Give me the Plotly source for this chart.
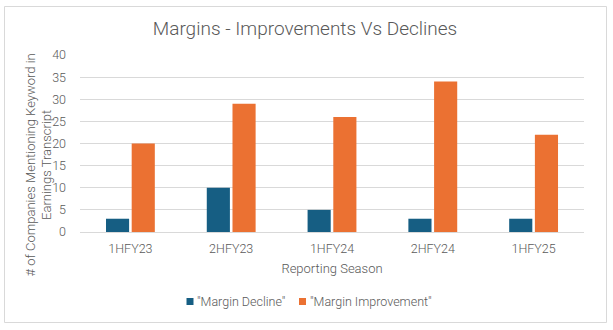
import plotly.graph_objects as go

categories = ["1HFY23", "2HFY23", "1HFY24", "2HFY24", "1HFY25"]
margin_decline = [3, 10, 5, 3, 3]
margin_improvement = [20, 29, 26, 34, 22]
y_ticks = [0, 5, 10, 15, 20, 25, 30, 35, 40]
series_names = ['"Margin Decline"', '"Margin Improvement"']
series_colors = ["#165E83", "#EB7132"]
y_title = "# of Companies Mentioning Keyword in<br>Earnings Transcript"

GRAY = "#595959"
FONT = "Roboto"

fig = go.Figure()
fig.add_trace(go.Bar(x=categories, y=margin_decline, name=series_names[0],
                     marker=dict(color=series_colors[0], line=dict(width=0))))
fig.add_trace(go.Bar(x=categories, y=margin_improvement, name=series_names[1],
                     marker=dict(color=series_colors[1], line=dict(width=0))))

L, R, T, B = 80, 29, 55, 98
W, H = 613, 330
pw = W - L - R
ph = H - T - B

def px_x(x):
    return (x - L) / pw

def px_y(y):
    return (H - B - y) / ph

# custom legend (small squares next to text)
legend_items = [(186.5, 195), (299, 307.5)]
shapes = [dict(type="rect", xref="paper", yref="paper",
               x0=px_x(4.5), x1=px_x(606.5), y0=px_y(322.5), y1=px_y(6.5),
               line=dict(color="#D9D9D9", width=1), layer="below")]
annotations = []
for (sx, tx), name, col in zip(legend_items, series_names, series_colors):
    shapes.append(dict(type="rect", xref="paper", yref="paper",
                       x0=px_x(sx), x1=px_x(sx + 7), y0=px_y(305), y1=px_y(298),
                       fillcolor=col, line=dict(width=0)))
    annotations.append(dict(text=name, xref="paper", yref="paper", x=px_x(tx), y=px_y(301.5),
                            xanchor="left", yanchor="middle", showarrow=False,
                            font=dict(family=FONT, size=12.5, color=GRAY, weight=300)))

annotations.append(dict(text=y_title, xref="paper", yref="paper", x=px_x(38.5), y=px_y(165),
                        xanchor="center", yanchor="middle", textangle=-90, showarrow=False,
                        font=dict(family=FONT, size=13, color=GRAY, weight=300)))

fig.update_layout(
    width=W, height=H,
    margin=dict(l=L, r=R, t=T, b=B),
    paper_bgcolor="white", plot_bgcolor="white",
    barmode="group", bargap=0.49, bargroupgap=0.1,
    showlegend=False,
    font=dict(family=FONT, color=GRAY, size=12, weight=300),
    title=dict(text="Margins - Improvements Vs Declines", x=305 / W, xanchor="center",
               xref="container",
               y=1 - 28 / H, yanchor="middle",
               font=dict(family=FONT, size=19, color=GRAY, weight=300)),
    xaxis=dict(showgrid=False, showline=True, linecolor="#D9D9D9", linewidth=1,
               ticks="", ticklabelstandoff=5,
               tickfont=dict(size=12.5, color=GRAY, weight=300),
               title=dict(text="Reporting Season", font=dict(size=13, color=GRAY, weight=300),
                          standoff=8)),
    yaxis=dict(range=[0, 40], tickvals=y_ticks, showgrid=True, gridcolor="#D9D9D9",
               gridwidth=1, zeroline=False, showline=False, ticks="",
               ticklabelstandoff=13,
               tickfont=dict(size=12.5, color=GRAY, weight=300)),
    shapes=shapes,
    annotations=annotations,
)

fig.write_html("out.html")
